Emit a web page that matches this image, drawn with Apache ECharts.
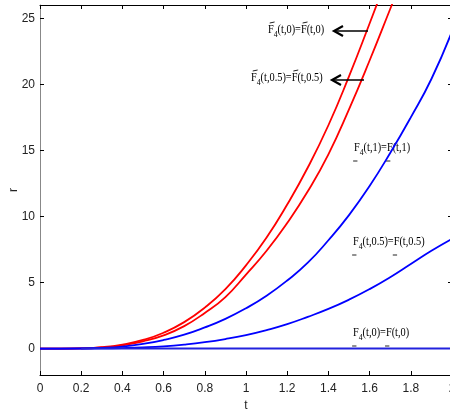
<!DOCTYPE html>
<html>
<head>
<meta charset="utf-8">
<script src="https://cdn.jsdelivr.net/npm/echarts@6/dist/echarts.min.js"></script>
<style>
html, body { margin: 0; padding: 0; background: #fff; }
#main { width: 450px; height: 412px; }
</style>
</head>
<body>
<div id="main"></div>
<script>
// t grid, step 0.1
var tVals = [0, 0.1, 0.2, 0.3, 0.4, 0.5, 0.6, 0.7, 0.8, 0.9, 1.0,
             1.1, 1.2, 1.3, 1.4, 1.5, 1.6, 1.7, 1.8, 1.9, 2.0];

// red curves (they leave the box at the top)
var redBarT0  = [0, 0, 0.02, 0.1, 0.3, 0.65, 1.2, 2.0, 3.1, 4.5, 6.3,
                 8.4, 10.9, 13.7, 16.9, 20.6, 24.6, 28.7];
var redBarT05 = [0, 0, 0.01, 0.08, 0.25, 0.55, 1.0, 1.7, 2.7, 3.9, 5.6,
                 7.4, 9.5, 11.9, 14.7, 18.1, 21.8, 25.7, 29.6];

// blue curves
var blueT1  = [0, 0, 0.01, 0.05, 0.15, 0.35, 0.65, 1.05, 1.6, 2.25, 3.05,
               4.0, 5.15, 6.5, 8.2, 10.1, 12.3, 14.8, 17.5, 20.4, 24.0];
var blueT05 = [0, 0, 0, 0.01, 0.04, 0.09, 0.17, 0.3, 0.48, 0.72, 1.02,
               1.4, 1.85, 2.4, 3.0, 3.7, 4.5, 5.4, 6.4, 7.4, 8.3];
var blueT0  = [0, 0, 0, 0, 0, 0, 0, 0, 0, 0, 0,
               0, 0, 0, 0, 0, 0, 0, 0, 0, 0];

var yTicks = [0, 5, 10, 15, 20, 25];

function pairs(vals, from) {
  var out = [];
  for (var i = from || 0; i < vals.length; i++) out.push([tVals[i], vals[i]]);
  return out;
}

var chart = echarts.init(document.getElementById('main'));

var labelFont = 'Liberation Serif';
var rich = {
  n: { fontFamily: labelFont, fontSize: 12, color: '#111' },
  s: { fontFamily: labelFont, fontSize: 9, color: '#111', padding: [9, 0, 0, 0] }
};

var ctx = document.createElement('canvas').getContext('2d');
function textW(str, size) {
  ctx.font = size + 'px "' + labelFont + '"';
  return ctx.measureText(str).width;
}

// F_4(t,a)=F(t,a) with a bar over (mark 'over') or a dash under (mark 'under') each F
function fLabel(x, y, arg, mark) {
  var wF = textW('F', 12);
  var x2 = wF + textW('4', 9) + textW('(t,' + arg + ')=', 12);
  var kids = [{
    type: 'text', x: 0, y: 0,
    style: { text: '{n|F}{s|4}{n|(t,' + arg + ')=F(t,' + arg + ')}', rich: rich, verticalAlign: 'middle' }
  }];
  [0, x2].forEach(function (fx) {
    var shape = mark === 'over'
      ? { x1: fx + 2, y1: -7, x2: fx + wF + 1, y2: -8 }
      : { x1: fx - 1, y1: 13, x2: fx + 4, y2: 13 };
    kids.push({ type: 'line', shape: shape, style: { stroke: '#111', lineWidth: 1 } });
  });
  return { type: 'group', x: x, y: y, scaleX: 0.86, z: 10, children: kids };
}
function arrow(x1, x2, y) {
  return [
    { type: 'line', z: 10, shape: { x1: x1, y1: y, x2: x2 + 2, y2: y },
      style: { stroke: '#000', lineWidth: 1.5 } },
    { type: 'polyline', z: 10,
      shape: { points: [[x2 + 9, y - 5], [x2, y], [x2 + 9, y + 5]] },
      style: { stroke: '#000', lineWidth: 2.2, fill: null } }
  ];
}

var axisText = { fontFamily: 'Liberation Sans', fontSize: 12, color: '#222' };

function curve(vals, color, from) {
  return {
    type: 'line', data: pairs(vals, from), showSymbol: false, smooth: true,
    lineStyle: { color: color, width: 1.8 }, clip: true
  };
}

chart.setOption({
  animation: false,
  backgroundColor: '#fff',
  grid: { left: 40, top: 5, right: -2, bottom: 37, containLabel: false, outerBoundsMode: 'none' },
  xAxis: [{
    type: 'value', min: 0, max: 2, interval: 0.2,
    name: 't', nameLocation: 'middle', nameGap: 24,
    nameTextStyle: axisText,
    axisLine: { onZero: false, lineStyle: { color: '#000', width: 1 } },
    axisTick: { inside: true, length: 4, lineStyle: { color: '#000' } },
    axisLabel: Object.assign({ margin: 8 }, axisText),
    splitLine: { show: false }
  }, {
    type: 'value', min: 0, max: 2, interval: 0.2, position: 'top',
    axisLine: { onZero: false, lineStyle: { color: '#000', width: 1 } },
    axisTick: { inside: true, length: 4, lineStyle: { color: '#000' } },
    axisLabel: { show: false },
    splitLine: { show: false }
  }],
  yAxis: [{
    type: 'value', min: -2, max: 26,
    name: 'r', nameLocation: 'middle', nameGap: 20, nameRotate: 90, nameMoveOverlap: false,
    nameTextStyle: axisText,
    axisLine: { onZero: false, lineStyle: { color: '#888', width: 1 } },
    axisTick: { inside: true, length: 4, customValues: yTicks, lineStyle: { color: '#000' } },
    axisLabel: Object.assign({ margin: 5, customValues: yTicks }, axisText),
    splitLine: { show: false }
  }, {
    type: 'value', min: -2, max: 26, position: 'right',
    axisLine: { onZero: false, lineStyle: { color: '#000', width: 1 } },
    axisTick: { inside: true, length: 4, customValues: yTicks, lineStyle: { color: '#000' } },
    axisLabel: { show: false },
    splitLine: { show: false }
  }],
  series: [
    curve(redBarT0, '#f00'),
    curve(redBarT05, '#f00'),
    curve(blueT1, '#00f'),
    curve(blueT05, '#00f'),
    { type: 'line', data: pairs(blueT0, 2), showSymbol: false,
      lineStyle: { color: '#22d', width: 2 }, clip: true }
  ],
  graphic: [
    fLabel(268, 30, '0', 'over'),
    fLabel(251, 78, '0.5', 'over'),
    fLabel(354, 148, '1', 'under'),
    fLabel(353, 242, '0.5', 'under'),
    fLabel(353, 333, '0', 'under')
  ].concat(arrow(368, 334, 31), arrow(364, 332, 80))
});
</script>
</body>
</html>
